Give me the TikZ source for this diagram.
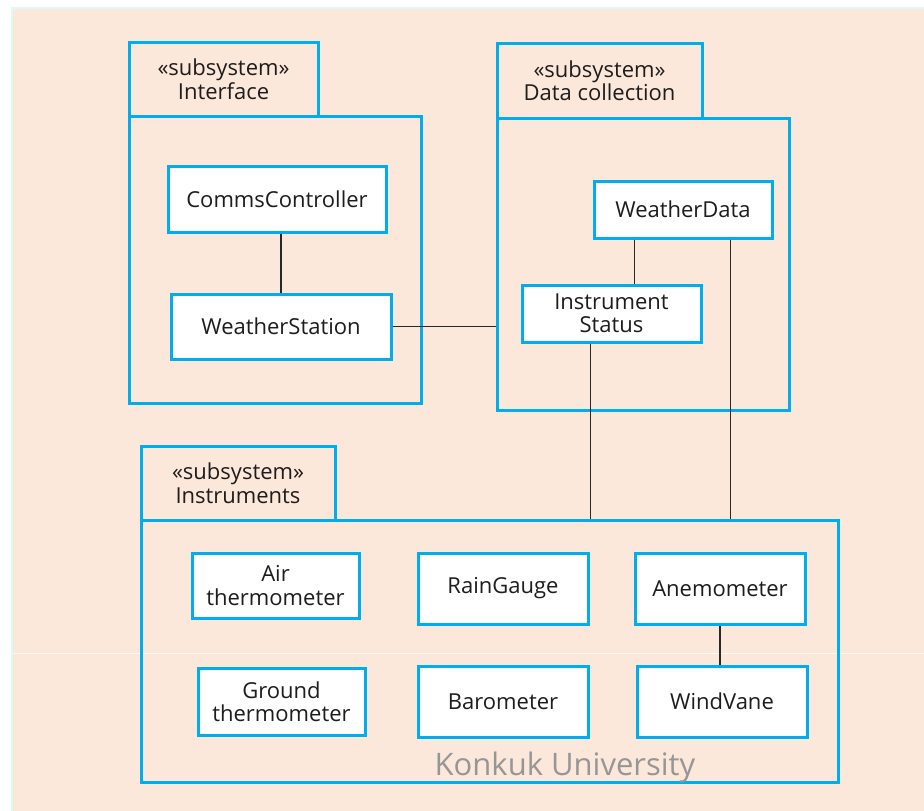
\documentclass[tikz,border=0pt]{standalone}
\usepackage{fontspec}
\setmainfont{Open Sans}
\usetikzlibrary{calc}
\definecolor{peach}{RGB}{252,232,218}
\definecolor{umlblue}{RGB}{0,174,239}
\definecolor{edgecyan}{RGB}{220,250,250}
\definecolor{linegray}{RGB}{40,40,40}
\definecolor{marktext}{RGB}{150,150,150}
\definecolor{ink}{RGB}{30,28,28}
\tikzset{
  cls/.style={draw=umlblue, line width=3pt, fill=white, align=center,
    inner sep=0pt, font=\fontsize{22}{23.5}\selectfont, text=ink},
  subtab/.style={draw=umlblue, line width=3pt, align=center, inner sep=0pt,
    font=\fontsize{22}{23.5}\selectfont, text=ink},
  subbody/.style={draw=umlblue, line width=3pt, inner sep=0pt},
  link/.style={draw=linegray, line width=1.1pt}
}
\begin{document}
\begin{tikzpicture}[x=1pt,y=-1pt]
  % page
  \fill[white] (0,0) rectangle (924,811);
  \useasboundingbox (0,0) rectangle (924,811);
  \fill[edgecyan] (11,7) rectangle (924,811);
  \fill[peach] (13,9) rectangle (924,811);
  \draw[white, opacity=0.7, line width=0.8pt] (13,653) -- (924,653);

  % subsystem Interface
  \node[subbody, minimum width=292, minimum height=287] (ifbody) at (275,259.5) {};
  \node[subtab, minimum width=189, minimum height=74] (iftab) at (223.5,79) {«subsystem»\\Interface};
  % subsystem Data collection
  \node[subbody, minimum width=292, minimum height=292] (dcbody) at (643,264) {};
  \node[subtab, minimum width=205, minimum height=75] (dctab) at (599.5,80.5) {«subsystem»\\Data collection};
  % subsystem Instruments
  \node[subbody, minimum width=697, minimum height=262] (inbody) at (489.5,651) {};
  \node[subtab, minimum width=194, minimum height=74] (intab) at (238,483) {«subsystem»\\Instruments};

  % classes
  \node[cls, minimum width=218, minimum height=66] (cc) at (277,199) {CommsController};
  \node[cls, minimum width=220, minimum height=65] (ws) at (281,326.5) {WeatherStation};
  \node[cls, minimum width=178, minimum height=57] (wd) at (683,209.5) {WeatherData};
  \node[cls, minimum width=179, minimum height=57] (is) at (611.5,313.5) {Instrument\\Status};
  \node[cls, minimum width=167, minimum height=65] (air) at (275.5,585.5) {Air\\thermometer};
  \node[cls, minimum width=170, minimum height=71] (rg) at (503,588.5) {RainGauge};
  \node[cls, minimum width=170, minimum height=71] (an) at (720,588.5) {Anemometer};
  \node[cls, minimum width=167, minimum height=67] (gt) at (281.5,701.5) {Ground\\thermometer};
  \node[cls, minimum width=170, minimum height=71] (bar) at (503,701.5) {Barometer};
  \node[cls, minimum width=170, minimum height=71] (wv) at (722,701.5) {WindVane};

  % associations
  \draw[link] (ws.north) -- (ws.north |- cc.south);
  \draw[link] (ws.east) -- (ws.east -| dcbody.west);
  \coordinate (wdl) at ($(wd.south west)+(42,0)$);
  \draw[link] (wdl) -- (wdl |- is.north);
  \coordinate (wdr) at ($(wd.south west)+(138,0)$);
  \draw[link] (wdr) -- (wdr |- inbody.north);
  \coordinate (isd) at ($(is.south west)+(70,0)$);
  \draw[link] (isd) -- (isd |- inbody.north);
  \draw[link] (an.south) -- (an.south |- wv.north);

  % mark
  \node[text=marktext, font=\fontsize{31}{33}\selectfont, inner sep=0pt] (mark) at (565,767) {Konkuk University};
\end{tikzpicture}
\end{document}
